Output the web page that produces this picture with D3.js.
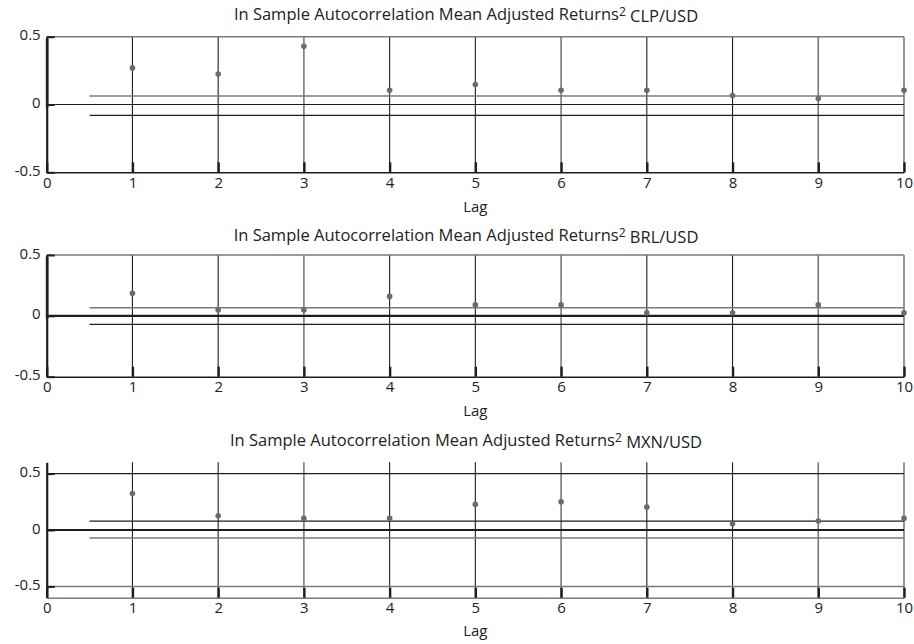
<!DOCTYPE html>
<html>
<head>
<meta charset="utf-8">
<script src="https://cdn.jsdelivr.net/npm/d3@7"></script>
<style>
  body { margin: 0; background: #fff; }
  text { font-family: "Open Sans", "Noto Sans", sans-serif; fill: #222; }
</style>
</head>
<body>
<div id="chart"></div>
<script>
/* Data */
const lags = [1, 2, 3, 4, 5, 6, 7, 8, 9, 10];
const xTicks = [0, 1, 2, 3, 4, 5, 6, 7, 8, 9, 10];
const yTicks = [-0.5, 0, 0.5];

const pairs = ["CLP/USD", "BRL/USD", "MXN/USD"];
const acfCLP = [0.27, 0.225, 0.43, 0.105, 0.147, 0.105, 0.105, 0.066, 0.044, 0.105];
const acfBRL = [0.185, 0.048, 0.048, 0.16, 0.09, 0.09, 0.025, 0.025, 0.09, 0.025];
const acfMXN = [0.324, 0.126, 0.103, 0.103, 0.227, 0.25, 0.203, 0.056, 0.079, 0.103];
const bandUpper = [0.062, 0.066, 0.079];
const bandLower = [-0.08, -0.07, -0.07];
const yDomains = [[-0.5, 0.5], [-0.5, 0.5], [-0.6, 0.6]];

/* Dimensions */
const width = 914, height = 644;
const xLeft = 46.7, xRight = 904;
// pixel range of each panel's plot area [bottom, top], plus text baselines
const panels = [
  { bottom: 172.3, top: 36.7, title: 20, lag: 212, values: acfCLP },
  { bottom: 376.7, top: 255, title: 241, lag: 416, values: acfBRL },
  { bottom: 597.7, top: 462.3, title: 446, lag: 636, values: acfMXN },
];

const dark = "#1e1e1e", grey = "#7a7a7a";
const greyLags = [3, 6, 9, 10]; // scan makes some verticals lighter

const svg = d3.select("#chart").append("svg")
  .attr("width", width)
  .attr("height", height);

const x = d3.scaleLinear().domain([0, 10]).range([xLeft, xRight]);

panels.forEach((p, i) => {
  const y = d3.scaleLinear().domain(yDomains[i]).range([p.bottom, p.top]);
  const g = svg.append("g");

  // vertical grid at each lag
  g.selectAll(".vgrid")
    .data(lags)
    .enter()
    .append("line")
    .attr("x1", d => x(d)).attr("x2", d => x(d))
    .attr("y1", p.top).attr("y2", p.bottom)
    .attr("stroke", d => greyLags.includes(d) ? grey : dark)
    .attr("stroke-width", d => greyLags.includes(d) ? 1.6 : 1.1);

  // horizontal lines: top border / +-0.5 grid
  if (i < 2) {
    g.append("line")
      .attr("x1", x(0)).attr("x2", x(10))
      .attr("y1", y(0.5)).attr("y2", y(0.5))
      .attr("stroke", grey).attr("stroke-width", 1.5);
  } else {
    g.append("line")
      .attr("x1", x(0)).attr("x2", x(10))
      .attr("y1", y(0.5)).attr("y2", y(0.5))
      .attr("stroke", dark).attr("stroke-width", 1.1);
    g.append("line")
      .attr("x1", x(0)).attr("x2", x(10))
      .attr("y1", y(-0.5)).attr("y2", y(-0.5))
      .attr("stroke", grey).attr("stroke-width", 1.5);
  }

  // confidence bands
  g.append("line")
    .attr("x1", x(0.5)).attr("x2", x(10))
    .attr("y1", y(bandUpper[i])).attr("y2", y(bandUpper[i]))
    .attr("stroke", i === 2 ? dark : grey).attr("stroke-width", i === 2 ? 1.1 : 1.5);
  g.append("line")
    .attr("x1", x(0.5)).attr("x2", x(10))
    .attr("y1", y(bandLower[i])).attr("y2", y(bandLower[i]))
    .attr("stroke", i === 2 ? grey : dark).attr("stroke-width", i === 2 ? 1.5 : 1.1);

  // zero line
  g.append("line")
    .attr("x1", x(0)).attr("x2", x(10))
    .attr("y1", y(0)).attr("y2", y(0))
    .attr("stroke", dark).attr("stroke-width", i === 0 ? 1.2 : 2.2);

  // lag 0 stem (clipped at top) for first two panels
  if (i < 2) {
    g.append("line")
      .attr("x1", x(0) + 0.5).attr("x2", x(0) + 0.5)
      .attr("y1", y(0.5) + 2).attr("y2", y(0) + 3)
      .attr("stroke", "#666").attr("stroke-width", 3);
  }

  // X axis
  const xAxis = g.append("g")
    .attr("transform", `translate(0,${p.bottom})`)
    .call(d3.axisBottom(x).tickValues(xTicks).tickSizeInner(-10).tickSizeOuter(0).tickPadding(2));
  xAxis.select(".domain").attr("stroke", i === 2 ? grey : dark).attr("stroke-width", 1.6);
  xAxis.selectAll(".tick line").attr("stroke", dark).attr("stroke-width", 2.4);
  xAxis.selectAll(".tick text")
    .style("font-size", "15px").attr("fill", dark).attr("dy", "0.9em");

  // Y axis
  const yAxis = g.append("g")
    .attr("transform", `translate(${x(0)},0)`)
    .call(d3.axisLeft(y).tickValues(yTicks).tickFormat(d => String(d)).tickSizeInner(-8).tickSizeOuter(0).tickPadding(6));
  yAxis.select(".domain").attr("stroke", dark).attr("stroke-width", 2.2);
  yAxis.selectAll(".tick line").attr("stroke", dark).attr("stroke-width", 2);
  yAxis.selectAll(".tick text")
    .style("font-size", "15px").attr("fill", dark).attr("dy", "0.2em");

  // ACF points
  g.selectAll(".pt")
    .data(lags)
    .enter()
    .append("circle")
    .attr("cx", d => x(d))
    .attr("cy", (d, k) => y(p.values[k]))
    .attr("r", 2.8)
    .attr("fill", "#6b6b6b");

  // Lag label
  g.append("text")
    .attr("x", (xLeft + xRight) / 2)
    .attr("y", p.lag)
    .attr("text-anchor", "middle")
    .style("font-size", "15px")
    .text("Lag");

  // Title
  const t = g.append("text")
    .attr("x", 466)
    .attr("y", p.title)
    .attr("text-anchor", "middle")
    .style("font-size", "16.5px")
    .text("In Sample Autocorrelation Mean Adjusted Returns");
  t.append("tspan")
    .attr("dy", "-0.35em")
    .style("font-size", "12px")
    .text("2");
  t.append("tspan")
    .attr("dy", "0.35em")
    .text(" " + pairs[i]);
});
</script>
</body>
</html>
